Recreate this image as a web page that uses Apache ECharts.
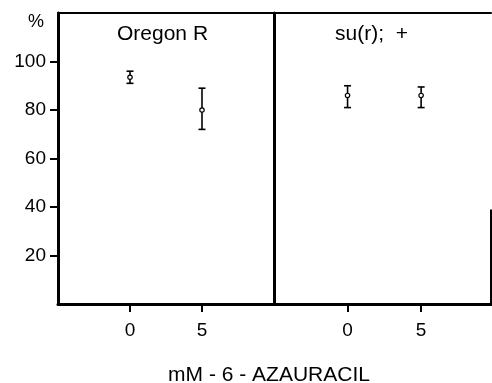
<!DOCTYPE html>
<html>
<head>
<meta charset="utf-8">
<script src="https://cdn.jsdelivr.net/npm/echarts@6/dist/echarts.min.js"></script>
<style>
  html, body { margin: 0; padding: 0; background: #fff; }
  #chart { width: 492px; height: 383px; }
</style>
</head>
<body>
<div id="chart"></div>
<script>
// doses of 6-azauracil (mM)
const doses = [0, 5];
const yTicks = [20, 40, 60, 80, 100];

// Oregon R
const oregonMean = [93.5, 80];
const oregonLow = [91, 72];
const oregonHigh = [96, 89];

// su(r); +
const surMean = [86, 86];
const surLow = [81, 81];
const surHigh = [90, 89.5];

const font = 'Liberation Sans, Arial, Helvetica, sans-serif';

const rows = (mean, low, high) => doses.map((d, i) => [d, low[i], high[i], mean[i]]);

const errBar = (params, api) => {
  const x = api.value(0);
  const lo = api.coord([x, api.value(1)]);
  const hi = api.coord([x, api.value(2)]);
  const mid = api.coord([x, api.value(3)]);
  const cap = 3.5;
  const st = { stroke: '#000', lineWidth: 1.6 };
  return {
    type: 'group',
    children: [
      { type: 'line', shape: { x1: lo[0], y1: lo[1], x2: hi[0], y2: hi[1] }, style: st },
      { type: 'line', shape: { x1: hi[0] - cap, y1: hi[1], x2: hi[0] + cap, y2: hi[1] }, style: st },
      { type: 'line', shape: { x1: lo[0] - cap, y1: lo[1], x2: lo[0] + cap, y2: lo[1] }, style: st },
      { type: 'circle', shape: { cx: mid[0], cy: mid[1], r: 2.2 }, style: { fill: '#fff', stroke: '#000', lineWidth: 1.2 } }
    ]
  };
};

const bottomX = (gi, max) => ({
  type: 'value', gridIndex: gi, min: -5, max: max, position: 'bottom',
  splitLine: { show: false },
  axisLine: { show: true, onZero: false, lineStyle: { color: '#000', width: 3 } },
  axisTick: { show: true, customValues: doses, length: 8, lineStyle: { color: '#000', width: 2 } },
  axisLabel: { show: true, customValues: doses, margin: 17, color: '#000', fontSize: 19, fontFamily: font }
});
const topX = (gi, max) => ({
  type: 'value', gridIndex: gi, min: -5, max: max, position: 'top',
  splitLine: { show: false },
  axisLine: { show: true, onZero: false, lineStyle: { color: '#000', width: 2 } },
  axisTick: { show: false }, axisLabel: { show: false }
});
const leftY = (gi, main) => ({
  type: 'value', gridIndex: gi, min: 0, max: 120, position: 'left',
  splitLine: { show: false },
  axisLine: { show: true, onZero: false, lineStyle: { color: '#000', width: 3 } },
  axisTick: { show: main, customValues: yTicks, length: 8, lineStyle: { color: '#000', width: 2 } },
  axisLabel: { show: main, customValues: yTicks, margin: 12, color: '#000', fontSize: 19, fontFamily: font }
});

const chart = echarts.init(document.getElementById('chart'));
chart.setOption({
  backgroundColor: '#fff',
  animation: false,
  title: [
    { text: 'Oregon R', left: 117, top: 24, padding: 0,
      textStyle: { fontSize: 21, fontWeight: 'normal', color: '#000', fontFamily: font } },
    { text: 'su(r);  +', left: 335, top: 24, padding: 0,
      textStyle: { fontSize: 21, fontWeight: 'normal', color: '#000', fontFamily: font } },
    { text: '%', left: 28, top: 13, padding: 0,
      textStyle: { fontSize: 18, fontWeight: 'normal', color: '#000', fontFamily: font } },
    { text: 'mM - 6 - AZAURACIL', left: 269, top: 365, textAlign: 'center', padding: 0,
      textStyle: { fontSize: 21, fontWeight: 'normal', color: '#000', fontFamily: font } }
  ],
  grid: [
    { left: 58, top: 13, width: 216, height: 291 },
    { left: 274, top: 13, width: 217, height: 291 }
  ],
  xAxis: [bottomX(0, 10), bottomX(1, 9.75), topX(0, 10), topX(1, 9.75)],
  yAxis: [leftY(0, true), leftY(1, false)],
  series: [
    { type: 'custom', xAxisIndex: 0, yAxisIndex: 0, renderItem: errBar,
      data: rows(oregonMean, oregonLow, oregonHigh) },
    { type: 'custom', xAxisIndex: 1, yAxisIndex: 1, renderItem: errBar,
      data: rows(surMean, surLow, surHigh),
      markLine: {
        silent: true, symbol: 'none', label: { show: false },
        lineStyle: { color: '#000', width: 2, type: 'solid' },
        data: [[{ coord: [9.75, 0] }, { coord: [9.75, 39] }]]
      } }
  ]
});
</script>
</body>
</html>
